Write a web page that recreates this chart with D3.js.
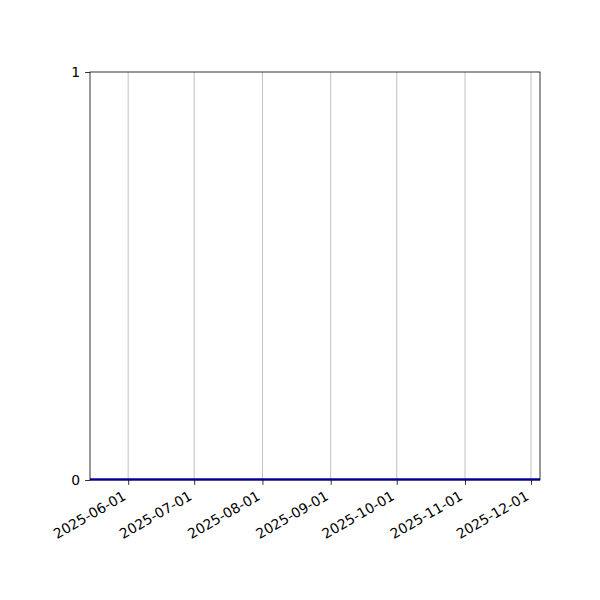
<!DOCTYPE html>
<html><head><meta charset="utf-8">
<script src="https://cdn.jsdelivr.net/npm/d3@7"></script>
<style>body{margin:0;background:#fff}svg{display:block}</style>
</head><body>
<script>
const xDomain = ["2025-05-14T16:00", "2025-12-05T02:00"];
const tickDates = ["2025-06-01","2025-07-01","2025-08-01","2025-09-01","2025-10-01","2025-11-01","2025-12-01"];
const yTicks = [0, 1];
const seriesDates = ["2025-05-14T16:00", "2025-12-05T02:00"];
const seriesValues = [0, 0];

const W = 600, H = 600;
const m = {left: 90, right: 540, top: 72, bottom: 480};
const FONT = "DejaVu Sans, sans-serif";
const FS = 13.9;
const parse = d => new Date(d);
const svg = d3.select("body").append("svg").attr("width", W).attr("height", H);

const x = d3.scaleTime().domain(xDomain.map(parse)).range([m.left, m.right]);
const y = d3.scaleLinear().domain([0, 1]).range([m.bottom, m.top]);

// grid
svg.append("g").selectAll("line").data(tickDates).join("line")
  .attr("x1", d => x(parse(d))).attr("x2", d => x(parse(d)))
  .attr("y1", m.top).attr("y2", m.bottom)
  .attr("stroke", "#b0b0b0").attr("stroke-width", 0.8);

// series
const line = d3.line().x((d, i) => x(parse(seriesDates[i]))).y(d => y(d));
svg.append("path").datum(seriesValues).attr("d", line)
  .attr("fill", "none").attr("stroke", "#0000cc").attr("stroke-width", 2.2)
  .attr("transform", "translate(0,-0.6)");

// x axis
const xAxis = d3.axisBottom(x).tickValues(tickDates.map(parse))
  .tickFormat(d3.timeFormat("%Y-%m-%d")).tickSizeOuter(0).tickSize(4.9).tickPadding(3.5);
const gx = svg.append("g").attr("transform", `translate(0,${m.bottom})`).call(xAxis)
  .attr("font-family", FONT).attr("font-size", FS);
gx.select(".domain").remove();
gx.selectAll(".tick line").attr("stroke", "#000").attr("stroke-width", 0.8);
gx.selectAll(".tick text").attr("fill", "#000")
  .attr("text-anchor", "end").attr("dy", null).attr("y", 0)
  .attr("transform", "translate(-1.7,18.9) rotate(-30)");

// y axis
const yAxis = d3.axisLeft(y).tickValues(yTicks).tickFormat(d3.format("d"))
  .tickSizeOuter(0).tickSize(4.9).tickPadding(4.9);
const gy = svg.append("g").attr("transform", `translate(${m.left},0)`).call(yAxis)
  .attr("font-family", FONT).attr("font-size", FS);
gy.select(".domain").remove();
gy.selectAll(".tick line").attr("stroke", "#000").attr("stroke-width", 0.8);
gy.selectAll(".tick text").attr("fill", "#000");

// frame
svg.append("rect").attr("x", m.left).attr("y", m.top)
  .attr("width", m.right - m.left).attr("height", m.bottom - m.top)
  .attr("fill", "none").attr("stroke", "#000").attr("stroke-width", 0.8);
</script>
</body></html>
